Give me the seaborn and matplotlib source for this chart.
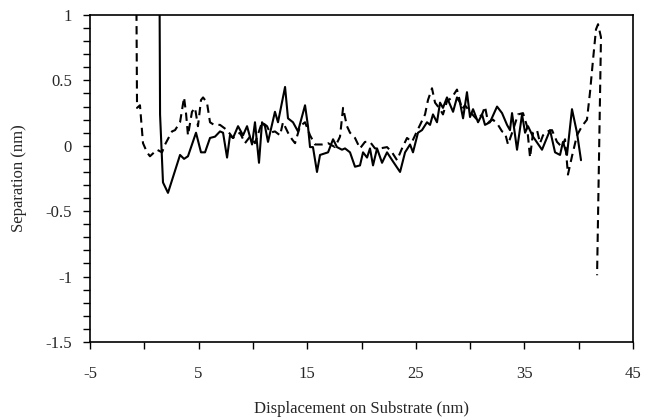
import pandas as pd
import numpy as np
import matplotlib
matplotlib.use("Agg")
import matplotlib.pyplot as plt
import seaborn as sns
from matplotlib.ticker import MultipleLocator

# solid trace
solid_x = [1.31, 1.45, 1.72, 2.18, 3.29, 3.66, 4.02, 4.76, 5.22, 5.59, 6.05, 6.51, 6.97, 7.25,
           7.62, 7.89, 8.17, 8.63, 9.09, 9.46, 9.92, 10.19, 10.56, 10.84, 11.11, 11.39, 12.03,
           12.31, 12.96, 13.23, 13.69, 14.15, 14.80, 15.07, 15.26, 15.53, 15.90, 16.18, 16.92,
           17.38, 17.74, 18.20, 18.48, 18.94, 19.40, 19.86, 20.14, 20.51, 20.78, 21.06, 21.43,
           21.89, 22.35, 22.90, 23.55, 24.01, 24.47, 24.74, 25.20, 25.57, 26.03, 26.31, 26.58,
           26.95, 27.23, 27.50, 27.87, 28.43, 28.79, 29.07, 29.35, 29.71, 29.99, 30.27, 30.73,
           31.10, 31.37, 31.83, 32.48, 32.94, 33.40, 33.67, 33.86, 34.32, 34.78, 35.06, 35.33,
           35.79, 36.62, 37.36, 37.82, 38.28, 38.55, 38.92, 39.38, 39.84, 40.21]
solid_y = [3.0, 0.24, -0.28, -0.36, -0.07, -0.10, -0.08, 0.10, -0.05, -0.05, 0.06, 0.07, 0.11, 0.10,
           -0.09, 0.08, 0.06, 0.15, 0.08, 0.15, 0.01, 0.18, -0.13, 0.18, 0.15, 0.03, 0.26,
           0.18, 0.45, 0.21, 0.18, 0.11, 0.31, 0.15, -0.01, -0.01, -0.20, -0.07, -0.05,
           0.05, -0.01, -0.03, -0.02, -0.05, -0.16, -0.15, -0.05, -0.09, -0.02, -0.15, -0.02,
           -0.13, -0.05, -0.12, -0.20, -0.05, 0.01, -0.05, 0.10, 0.12, 0.18, 0.16, 0.24,
           0.18, 0.33, 0.29, 0.37, 0.26, 0.37, 0.33, 0.21, 0.41, 0.22, 0.28, 0.18,
           0.24, 0.16, 0.18, 0.30, 0.25, 0.16, 0.12, 0.25, -0.03, 0.24, 0.10, 0.15,
           0.07, -0.03, 0.12, -0.05, -0.07, 0.03, -0.07, 0.28, 0.10, -0.11]

# dashed trace
dashed_x = [-0.86, -0.67, -0.40, -0.12, 0.25, 0.52, 1.17, 1.63, 1.91, 2.55, 2.83, 3.29, 3.66, 3.84,
            4.02, 4.39, 4.67, 4.94, 5.22, 5.41, 5.77, 6.05, 6.42, 6.97, 7.62, 8.17, 8.81, 9.27,
            9.73, 10.19, 10.84, 11.30, 11.57, 12.03, 12.50, 12.77, 13.23, 13.60, 13.88, 14.34,
            14.80, 15.26, 15.72, 16.36, 16.92, 17.56, 18.02, 18.30, 18.66, 18.94, 19.40, 19.86,
            20.32, 20.78, 21.24, 21.70, 22.35, 22.81, 23.27, 23.73, 24.19, 24.65, 24.93, 25.39,
            25.85, 26.12, 26.49, 26.77, 27.23, 27.50, 27.87, 28.33, 28.79, 29.25, 29.53, 29.99,
            30.64, 31.10, 31.37, 31.65, 32.11, 32.57, 32.94, 33.21, 33.49, 33.95, 34.41, 34.87,
            35.24, 35.52, 35.79, 36.16, 36.44, 36.71, 37.08, 37.54, 38.00, 38.46, 38.74, 39.01,
            39.38, 39.84, 40.30, 40.76, 41.04, 41.32, 41.59, 41.78, 42.05, 41.69]
dashed_y = [3.0, 0.29, 0.31, 0.02, -0.05, -0.08, -0.03, -0.05, 0.01, 0.11, 0.12, 0.18, 0.37, 0.25,
            0.08, 0.26, 0.29, 0.15, 0.35, 0.37, 0.33, 0.18, 0.16, 0.16, 0.12, 0.06, 0.10, 0.02,
            0.07, 0.02, 0.18, 0.15, 0.10, 0.11, 0.08, 0.18, 0.10, 0.05, 0.02, 0.15,
            0.18, 0.08, 0.01, 0.01, 0.02, -0.01, 0.07, 0.29, 0.15, 0.10, 0.06, -0.02,
            0.03, 0.03, -0.02, -0.02, -0.01, -0.05, -0.11, -0.02, 0.06, 0.03, 0.08, 0.16,
            0.24, 0.35, 0.44, 0.33, 0.28, 0.24, 0.34, 0.37, 0.43, 0.28, 0.31, 0.26,
            0.20, 0.24, 0.30, 0.18, 0.20, 0.16, 0.11, 0.10, 0.01, 0.12, 0.24, 0.25,
            0.15, -0.09, 0.10, 0.12, 0.02, 0.08, 0.11, 0.12, 0.03, -0.01, 0.05, -0.22,
            -0.08, 0.08, 0.15, 0.20, 0.41, 0.66, 0.89, 0.93, 0.83, -0.99]

x_ticks = [-5, 5, 15, 25, 35, 45]
y_ticks = [-1.5, -1, -0.5, 0, 0.5, 1]
y_ticklabels = ["-1.5", "-1", "-0.5", "0", "0.5", "1"]


def main():
    sns.set_style("white")
    plt.rcParams["font.family"] = ["Liberation Serif", "DejaVu Serif"]
    plt.rcParams["axes.unicode_minus"] = False

    fig = plt.figure(figsize=(6.57, 4.18), dpi=100)
    ax = fig.add_axes([0.137, 0.182, 0.8265, 0.782])

    solid = pd.DataFrame({"x": solid_x, "y": solid_y})
    dashed = pd.DataFrame({"x": dashed_x, "y": dashed_y})

    sns.lineplot(data=solid, x="x", y="y", sort=False, estimator=None, color="black", lw=1.5, ax=ax)
    sns.lineplot(data=dashed, x="x", y="y", sort=False, estimator=None, color="black", lw=1.5,
                 linestyle=(0, (4, 2.5)), ax=ax)

    ax.set_xlim(-5, 45)
    ax.set_ylim(-1.5, 1)
    ax.set_xticks(x_ticks)
    ax.set_xticklabels([str(t) for t in x_ticks])
    ax.set_yticks(y_ticks)
    ax.set_yticklabels(y_ticklabels)
    ax.xaxis.set_minor_locator(MultipleLocator(5))
    ax.yaxis.set_minor_locator(MultipleLocator(0.1))
    ax.tick_params(which="both", direction="out", length=5, width=1, color="black",
                   bottom=True, left=True, top=False, right=False, labelsize=12)
    ax.tick_params(axis="x", pad=12)
    ax.tick_params(axis="y", pad=8)
    for s in ax.spines.values():
        s.set_color("black")
        s.set_linewidth(1.2)

    ax.set_xlabel("Displacement on Substrate (nm)", fontsize=12, labelpad=14)
    ax.set_ylabel("Separation (nm)", fontsize=12, labelpad=13)

    fig.savefig("out.png", dpi=100)


if __name__ == "__main__":
    main()
